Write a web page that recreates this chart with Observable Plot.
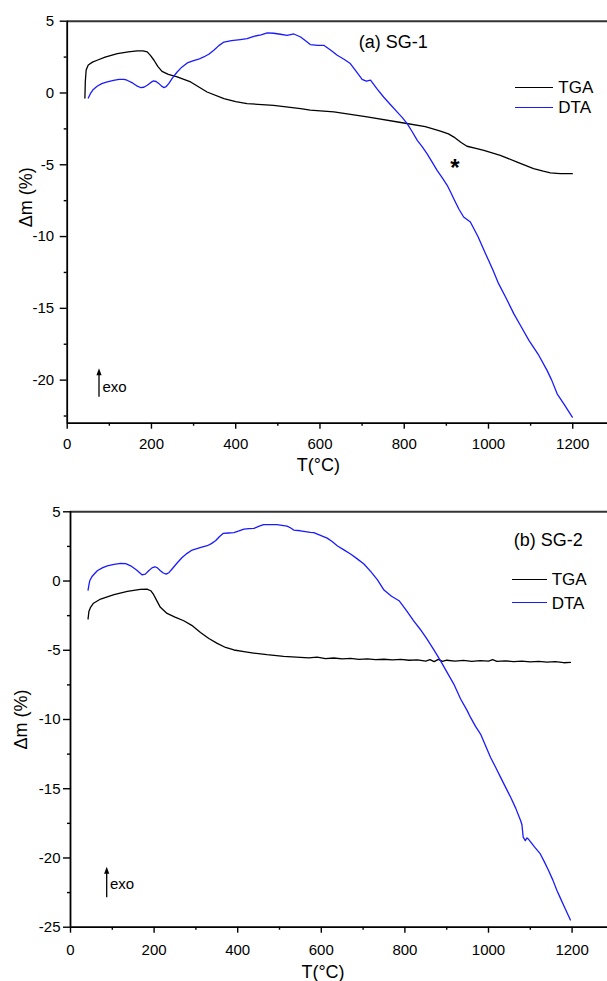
<!DOCTYPE html>
<html><head><meta charset="utf-8">
<script src="https://cdn.jsdelivr.net/npm/d3@7"></script>
<script src="https://cdn.jsdelivr.net/npm/@observablehq/plot@0.6"></script>
<style>
body{margin:0;background:#fff;font-family:"Liberation Sans",Arial,sans-serif;}
#wrap{position:relative;width:607px;height:981px;overflow:hidden;background:#fff;}
.abs{position:absolute;white-space:nowrap;color:#000;line-height:1;}
.panel{position:absolute;left:0;}
</style></head><body><div id="wrap"></div>
<script>
// ---------- data ----------
const seriesNames = ["TGA", "DTA"];
const seriesColors = ["#000000", "#1a1aff"];
const panelLabels = ["(a) SG-1", "(b) SG-2"];
const xTitle = "T(°C)";
const yTitle = "Δm (%)";
const exoLabel = "exo";
const starLabel = "*";

const xMajor = [0, 200, 400, 600, 800, 1000, 1200];
const xMinor = [100, 300, 500, 700, 900, 1100];
const yMajorA = [5, 0, -5, -10, -15, -20];
const yMinorA = [2.5, -2.5, -7.5, -12.5, -17.5, -22.5];
const yMajorB = [5, 0, -5, -10, -15, -20, -25];
const yMinorB = [2.5, -2.5, -7.5, -12.5, -17.5, -22.5];

// Panel (a) SG-1
const tgaA_T = [42, 43, 45, 50, 60, 71, 90, 119, 145, 166, 180, 190, 198, 206, 215, 225, 240, 261, 293, 332, 372, 400, 427, 490, 554, 577, 633, 712, 799, 850, 886, 905, 918, 935, 949, 970, 989, 1028, 1068, 1107, 1130, 1147, 1170, 1199];
const tgaA_m = [-0.35, 0.8, 1.6, 1.95, 2.15, 2.28, 2.5, 2.74, 2.86, 2.93, 2.94, 2.86, 2.6, 2.28, 1.85, 1.51, 1.3, 1.12, 0.77, 0.07, -0.39, -0.6, -0.74, -0.86, -1.09, -1.2, -1.32, -1.67, -2.09, -2.35, -2.65, -2.85, -3.07, -3.45, -3.71, -3.85, -3.99, -4.34, -4.81, -5.27, -5.45, -5.57, -5.62, -5.62];
const dtaA_T = [50, 55, 62, 71, 82, 95, 110, 123, 135, 142, 155, 165, 174, 182, 190, 198, 204, 211, 218, 224, 229, 235, 241, 250, 261, 272, 285, 300, 312, 324, 336, 348, 360, 372, 390, 411, 427, 443, 460, 475, 490, 506, 522, 538, 554, 565, 577, 595, 609, 625, 641, 657, 672, 686, 700, 710, 720, 735, 751, 767, 783, 795, 807, 819, 831, 843, 854, 866, 878, 890, 902, 910, 919, 930, 941, 957, 975, 993, 1010, 1024, 1042, 1060, 1078, 1096, 1118, 1139, 1150, 1163, 1180, 1199];
const dtaA_m = [-0.35, -0.05, 0.25, 0.47, 0.65, 0.77, 0.88, 0.95, 0.95, 0.89, 0.7, 0.5, 0.38, 0.4, 0.54, 0.72, 0.84, 0.8, 0.65, 0.48, 0.38, 0.45, 0.65, 1.05, 1.46, 1.8, 2.09, 2.25, 2.35, 2.51, 2.7, 2.98, 3.3, 3.55, 3.65, 3.72, 3.78, 3.95, 4.05, 4.18, 4.16, 4.09, 4.02, 4.11, 3.9, 3.65, 3.37, 3.32, 3.32, 3.0, 2.63, 2.35, 2.05, 1.5, 0.95, 0.82, 0.89, 0.3, -0.28, -0.8, -1.32, -1.7, -2.13, -2.7, -3.3, -3.75, -4.22, -4.8, -5.39, -5.9, -6.43, -6.9, -7.45, -8.1, -8.64, -8.99, -10.0, -11.19, -12.3, -13.28, -14.3, -15.37, -16.3, -17.23, -18.2, -19.32, -20.0, -20.95, -21.7, -22.58];

// Panel (b) SG-2
const tgaB_T = [42, 44, 48, 55, 72, 104, 136, 167, 183, 192, 199, 207, 215, 231, 250, 271, 290, 311, 331, 351, 371, 391, 415, 438, 470, 510, 550, 570, 590, 610, 630, 650, 670, 690, 710, 730, 750, 770, 790, 810, 830, 850, 860, 870, 880, 890, 900, 920, 940, 960, 980, 1000, 1010, 1020, 1040, 1060, 1080, 1100, 1120, 1140, 1160, 1180, 1196];
const tgaB_m = [-2.74, -2.2, -1.9, -1.6, -1.3, -0.99, -0.75, -0.6, -0.58, -0.7, -0.99, -1.45, -1.9, -2.34, -2.6, -2.87, -3.2, -3.71, -4.15, -4.5, -4.8, -4.98, -5.1, -5.2, -5.32, -5.44, -5.52, -5.55, -5.5, -5.6, -5.56, -5.62, -5.58, -5.66, -5.62, -5.68, -5.65, -5.7, -5.66, -5.72, -5.7, -5.78, -5.68, -5.82, -5.66, -5.8, -5.72, -5.78, -5.73, -5.8, -5.75, -5.78, -5.68, -5.8, -5.76, -5.82, -5.78, -5.84, -5.8, -5.86, -5.82, -5.9, -5.88];
const dtaB_T = [42, 44, 46, 52, 64, 76, 88, 104, 120, 132, 144, 158, 171, 179, 187, 195, 202, 208, 215, 222, 229, 236, 243, 255, 267, 279, 291, 310, 327, 337, 347, 356, 365, 378, 391, 403, 415, 427, 439, 450, 462, 478, 494, 506, 518, 526, 534, 550, 574, 582, 598, 614, 626, 638, 654, 670, 686, 702, 718, 734, 750, 768, 786, 803, 821, 837, 853, 869, 885, 901, 917, 933, 949, 957, 969, 981, 993, 1005, 1017, 1029, 1041, 1053, 1065, 1077, 1080, 1083, 1088, 1092, 1096, 1110, 1124, 1134, 1144, 1154, 1164, 1172, 1180, 1188, 1196];
const dtaB_m = [-0.65, -0.3, 0.02, 0.35, 0.74, 0.95, 1.1, 1.2, 1.27, 1.25, 1.1, 0.8, 0.45, 0.5, 0.74, 0.95, 1.03, 0.95, 0.74, 0.58, 0.5, 0.62, 0.87, 1.3, 1.7, 2.0, 2.24, 2.42, 2.55, 2.7, 2.91, 3.2, 3.44, 3.47, 3.5, 3.62, 3.75, 3.78, 3.8, 3.95, 4.07, 4.08, 4.07, 4.02, 3.97, 3.85, 3.68, 3.63, 3.51, 3.5, 3.3, 3.1, 2.85, 2.55, 2.25, 1.95, 1.6, 1.23, 0.7, 0.1, -0.65, -1.1, -1.42, -2.1, -2.87, -3.5, -4.19, -4.95, -5.75, -6.6, -7.44, -8.5, -9.36, -9.85, -10.5, -11.05, -11.9, -12.74, -13.45, -14.18, -14.9, -15.62, -16.4, -17.31, -17.6, -18.5, -18.75, -18.55, -18.65, -19.2, -19.71, -20.3, -20.92, -21.6, -22.36, -22.9, -23.44, -23.95, -24.48];

// ---------- helpers ----------
const zip = (xs, ys) => xs.map((x, i) => ({x, y: ys[i]}));
const wrap = document.getElementById("wrap");
const FONT = "'Liberation Sans', Arial, sans-serif";
const fmt = d => String(d);

function panel(cfg) {
  const {top, height, mt, mb, ml, xMax, yDom, yMaj, yMin, tga, dta, xPad, yPad, xtDy, xtDx, ytDx, ytDy} = cfg;
  const chart = Plot.plot({
    width: 607, height,
    marginTop: mt, marginBottom: mb, marginLeft: ml, marginRight: 0,
    style: {fontFamily: FONT, color: "#000", background: "transparent", overflow: "visible"},
    x: {domain: [0, xMax]},
    y: {domain: yDom},
    marks: [
      Plot.axisX(xMajor, {anchor: "bottom", tickSize: 6, tickPadding: xPad, fontSize: 15, tickFormat: fmt, label: null, strokeWidth: 1.4}),
      Plot.axisX(xMinor, {anchor: "bottom", tickSize: 3, tickFormat: () => "", label: null, strokeWidth: 1.4}),
      Plot.axisY(yMaj, {anchor: "left", tickSize: 7, tickPadding: yPad, fontSize: 15, tickFormat: fmt, label: null, strokeWidth: 1.4}),
      Plot.axisY(yMin, {anchor: "left", tickSize: 3, tickFormat: () => "", label: null, strokeWidth: 1.4}),
      Plot.ruleY([yDom[1]], {stroke: "#333", strokeWidth: 2}),
      Plot.ruleY([yDom[0]], {stroke: "#000", strokeWidth: 1.8}),
      Plot.ruleX([0], {stroke: "#000", strokeWidth: 1.8}),
      Plot.line(tga, {x: "x", y: "y", stroke: seriesColors[0], strokeWidth: 1.3}),
      Plot.line(dta, {x: "x", y: "y", stroke: seriesColors[1], strokeWidth: 1.3}),
      Plot.text([xTitle], {text: d => d, frameAnchor: "bottom", lineAnchor: "middle", textAnchor: "middle", dy: xtDy, dx: xtDx, fontSize: 18}),
      Plot.text([yTitle], {text: d => d, frameAnchor: "left", lineAnchor: "middle", textAnchor: "middle", rotate: -90, dx: ytDx, dy: ytDy, fontSize: 18})
    ]
  });
  chart.classList.add("panel");
  chart.style.top = top + "px";
  wrap.appendChild(chart);
}

panel({top: 0, height: 490, mt: 20.7, mb: 67.3, ml: 66.7, xMax: 1282.5, yDom: [-23, 5],
  yMaj: yMajorA, yMin: yMinorA, tga: zip(tgaA_T, tgaA_m), dta: zip(dtaA_T, dtaA_m),
  xPad: 9, yPad: 6, xtDy: 42, xtDx: -19, ytDx: -40.7, ytDy: -25});
panel({top: 490, height: 491, mt: 21.3, mb: 54.3, ml: 70, xMax: 1284.7, yDom: [-25, 5],
  yMaj: yMajorB, yMin: yMinorB, tga: zip(tgaB_T, tgaB_m), dta: zip(dtaB_T, dtaB_m),
  xPad: 11, yPad: 3, xtDy: 45, xtDx: -16, ytDx: -49, ytDy: 0});

// ---------- annotations (layout) ----------
function addText(txt, left, top, size, opts = {}) {
  const s = document.createElement("div");
  s.className = "abs";
  s.textContent = txt;
  s.style.left = left + "px";
  s.style.top = top + "px";
  s.style.fontSize = size + "px";
  s.style.transform = opts.center ? "translate(-50%,-50%)" : "translateY(-50%)";
  if (opts.bold) s.style.fontWeight = "bold";
  wrap.appendChild(s);
}
function addLegend(x0, x1, ys, textX) {
  seriesNames.forEach((n, i) => {
    const l = document.createElement("div");
    l.className = "abs";
    l.style.left = x0 + "px"; l.style.top = (ys[i] - 0.65) + "px";
    l.style.width = (x1 - x0) + "px"; l.style.height = "0";
    l.style.borderTop = "1.3px solid " + seriesColors[i];
    wrap.appendChild(l);
    addText(n, textX, ys[i], 17);
  });
}
addText(panelLabels[0], 393.3, 41.7, 18, {center: true});
addText(panelLabels[1], 548.3, 540, 18, {center: true});
addLegend(515, 553.3, [87.3, 107.3], 558.3);
addLegend(511.7, 546.7, [579.3, 602.7], 551.7);
addText(starLabel, 455, 168, 24, {center: true, bold: true});
addText(exoLabel, 102.5, 386, 15);
addText(exoLabel, 110, 883.3, 15);

const ns = "http://www.w3.org/2000/svg";
const ov = document.createElementNS(ns, "svg");
ov.setAttribute("width", 607); ov.setAttribute("height", 981);
ov.style.position = "absolute"; ov.style.left = "0"; ov.style.top = "0";
[[99, 396.7, 368.3], [106.7, 897.3, 866.7]].forEach(([x, yb, yt]) => {
  const ln = document.createElementNS(ns, "line");
  ln.setAttribute("x1", x); ln.setAttribute("x2", x);
  ln.setAttribute("y1", yb); ln.setAttribute("y2", yt + 5);
  ln.setAttribute("stroke", "#000"); ln.setAttribute("stroke-width", 1.3);
  ov.appendChild(ln);
  const p = document.createElementNS(ns, "path");
  p.setAttribute("d", `M${x},${yt} L${x - 2.6},${yt + 7} L${x + 2.6},${yt + 7} Z`);
  p.setAttribute("fill", "#000");
  ov.appendChild(p);
});
wrap.appendChild(ov);
</script>
</body></html>
